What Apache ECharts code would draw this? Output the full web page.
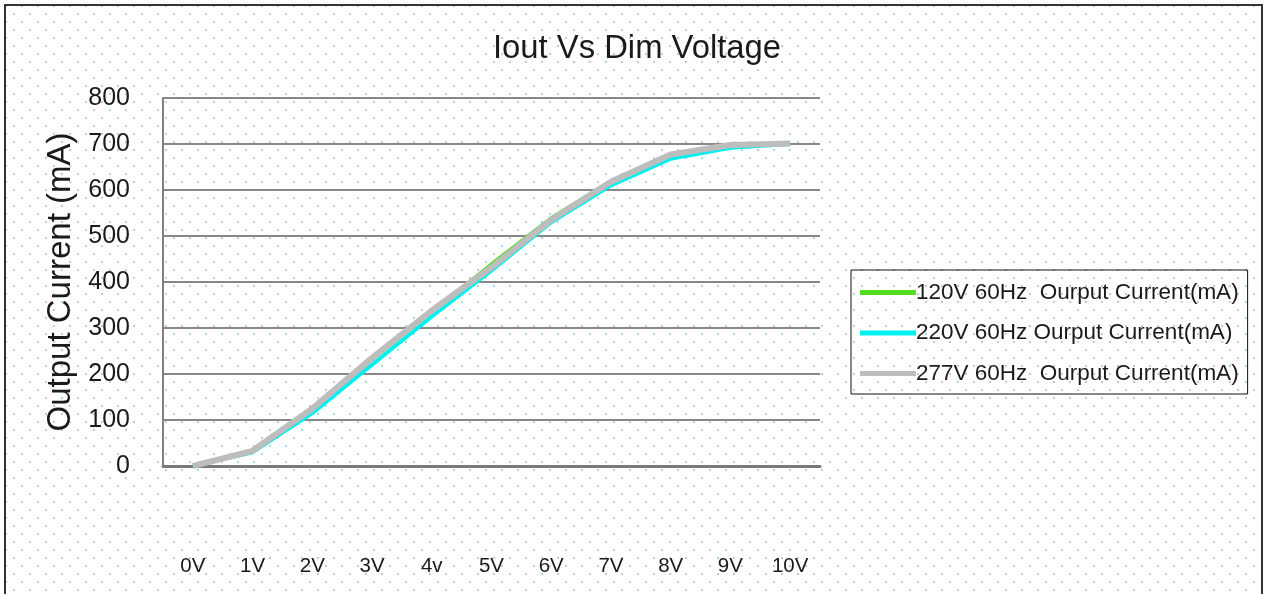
<!DOCTYPE html>
<html>
<head>
<meta charset="utf-8">
<script src="https://cdn.jsdelivr.net/npm/echarts@6/dist/echarts.min.js"></script>
<style>
html,body{margin:0;padding:0;background:#fff;}
#frame{position:absolute;left:4px;top:4px;width:1259px;height:600px;border:2px solid #333;box-sizing:border-box;
background-color:#fff;
background-image:radial-gradient(circle, #a9d9dd 0.9px, transparent 1.2px),radial-gradient(circle, #a9d9dd 0.9px, transparent 1.2px);
background-size:16px 16px,16px 16px;background-position:0 0,8px 8px;}
#chart{position:absolute;left:0;top:0;width:1267px;height:594px;}
</style>
</head>
<body>
<div id="frame"></div>
<div id="chart"></div>
<script>
const categories = ['0V','1V','2V','3V','4v','5V','6V','7V','8V','9V','10V'];
const seriesNames = ['120V 60Hz  Ourput Current(mA)','220V 60Hz Ourput Current(mA)','277V 60Hz  Ourput Current(mA)'];
const v120 = [0, 30, 120, 230, 335, 440, 540, 620, 675, 700, 700];
const v220 = [0, 30, 115, 220, 325, 425, 530, 610, 668, 692, 700];
const v277 = [0, 33, 125, 235, 338, 432, 535, 618, 677, 698, 701];
const yTicks = {min: 0, max: 800, interval: 100};

const chart = echarts.init(document.getElementById('chart'), null, {renderer:'canvas'});
const font = 'Liberation Sans, Arial, sans-serif';
const colors = ['#55dd22', '#00f0f0', '#bdbdbd'];
const widths = [3, 4, 6];
const data = [v120, v220, v277];
chart.setOption({
  animation: false,
  backgroundColor: 'transparent',
  title: {text: 'Iout Vs Dim Voltage', left: 632, textAlign: 'center', top: 27,
    textStyle: {fontFamily: font, fontSize: 32.8, fontWeight: 'normal', color: '#1a1a1a'}},
  legend: {
    orient: 'vertical', left: 851, top: 270, width: 395,
    padding: [11, 9, 9, 9], itemGap: 17.5,
    borderColor: '#111', borderWidth: 1, backgroundColor: 'transparent',
    icon: 'rect', itemWidth: 56, itemHeight: 5,
    textStyle: {fontFamily: font, fontSize: 22.5, color: '#1a1a1a', padding: [0, 0, 0, -5]},
    data: seriesNames
  },
  grid: {left: 163, right: 447, top: 98, bottom: 128},
  xAxis: {
    type: 'category', data: categories, boundaryGap: true,
    axisLine: {show: true, lineStyle: {color: '#7a7a7a', width: 3}},
    axisTick: {show: false},
    axisLabel: {margin: 90, fontFamily: font, fontSize: 20.5, color: '#1a1a1a'},
    splitLine: {show: false}
  },
  yAxis: {
    type: 'value', min: yTicks.min, max: yTicks.max, interval: yTicks.interval,
    name: 'Output Current (mA)', nameLocation: 'middle', nameRotate: 90, nameGap: 86,
    nameTextStyle: {fontFamily: font, fontSize: 33, color: '#1a1a1a'},
    axisLine: {show: true, lineStyle: {color: '#808080', width: 2}},
    axisTick: {show: false},
    axisLabel: {margin: 33, fontFamily: font, fontSize: 25, color: '#1a1a1a'},
    splitLine: {show: true, lineStyle: {color: '#888', width: 2}}
  },
  series: data.map((d, i) => ({
    name: seriesNames[i], type: 'line', data: d, symbol: 'none',
    lineStyle: {color: colors[i], width: widths[i]}, itemStyle: {color: colors[i]}
  }))
});
</script>
</body>
</html>
